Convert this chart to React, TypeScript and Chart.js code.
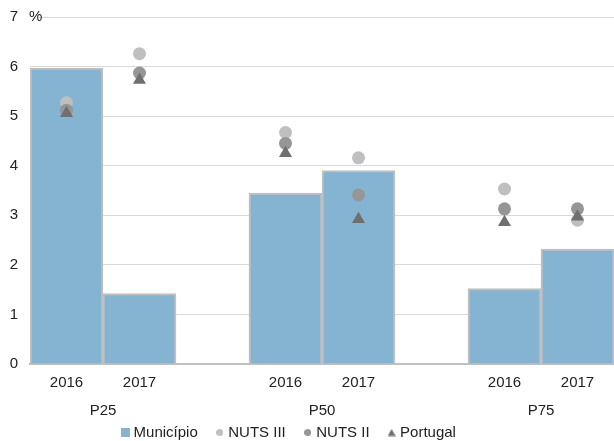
import React, { useEffect, useRef } from "react";
import { Chart, registerables } from "chart.js";

Chart.register(...registerables);

const categories = ["2016", "2017", "", "2016", "2017", "", "2016", "2017"];
const groups = ["P25", "P50", "P75"];
const groupSlots = [[0, 1], [3, 4], [6, 7]];
const municipio = [5.97, 1.42, null, 3.45, 3.9, null, 1.52, 2.32];
const nutsIII = [5.27, 6.26, null, 4.67, 4.16, null, 3.53, 2.9];
const nutsII = [5.12, 5.87, null, 4.45, 3.41, null, 3.13, 3.13];
const portugal = [5.06, 5.73, null, 4.25, 2.92, null, 2.86, 2.97];
const yTicks = [0, 1, 2, 3, 4, 5, 6, 7];

const FONT = "'Liberation Sans', Arial, sans-serif";
const BAR = "#85B4D3";
const C3 = "#BFBFBF";
const C2 = "#969696";
const CP = "#6F6F6F";

function marker(kind: string, color: string, size: number) {
  const c = document.createElement("canvas");
  c.width = size;
  c.height = size;
  const g = c.getContext("2d")!;
  g.fillStyle = color;
  if (kind === "rect") g.fillRect(0, 0, size, size);
  else if (kind === "circle") {
    g.beginPath();
    g.arc(size / 2, size / 2, size / 2, 0, Math.PI * 2);
    g.fill();
  } else {
    g.beginPath();
    g.moveTo(size / 2, 0.5);
    g.lineTo(size, size - 0.5);
    g.lineTo(0, size - 0.5);
    g.closePath();
    g.fill();
  }
  return c;
}

export default function App() {
  const ref = useRef<HTMLCanvasElement | null>(null);
  useEffect(() => {
    if (!ref.current) return;
    const legendMarkers = [
      marker("rect", BAR, 9),
      marker("circle", C3, 7),
      marker("circle", C2, 7),
      marker("tri", CP, 8),
    ];
    const extras = {
      id: "extras",
      afterLayout(chart: any) {
        if (chart.legend) {
          chart.legend.left -= 17;
          chart.legend.right -= 17;
        }
      },
      afterDraw(chart: any) {
        const ctx = chart.ctx;
        const x = chart.scales.x;
        const y = chart.scales.y;
        ctx.save();
        ctx.font = `15px ${FONT}`;
        ctx.fillStyle = "#222";
        ctx.textAlign = "center";
        ctx.textBaseline = "middle";
        groups.forEach((g, i) => {
          const [a, b] = groupSlots[i];
          const cx = (x.getPixelForValue(a) + x.getPixelForValue(b)) / 2;
          ctx.fillText(g, cx, x.top + 47);
        });
        const py = y.getPixelForValue(7);
        ctx.fillStyle = "#fff";
        ctx.fillRect(chart.chartArea.left, py - 2, 9, 4);
        ctx.fillStyle = "#222";
        ctx.textAlign = "left";
        ctx.fillText("%", chart.chartArea.left - 1, py);
        ctx.restore();
      },
    };
    const chart = new Chart(ref.current, {
      type: "bar",
      data: {
        labels: categories,
        datasets: [
          {
            type: "bar",
            label: "Município",
            data: municipio,
            backgroundColor: BAR,
            borderColor: "#C0C0C0",
            borderWidth: 2,
            borderSkipped: "bottom",
            barPercentage: 1,
            categoryPercentage: 1,
            order: 10,
          } as any,
          {
            type: "line",
            label: "NUTS III",
            data: nutsIII,
            showLine: false,
            pointStyle: "circle",
            pointRadius: 6.5,
            pointBackgroundColor: C3,
            pointBorderColor: C3,
            backgroundColor: C3,
            borderColor: C3,
            pointBorderWidth: 0,
            order: 3,
          },
          {
            type: "line",
            label: "NUTS II",
            data: nutsII,
            showLine: false,
            pointStyle: "circle",
            pointRadius: 6.5,
            pointBackgroundColor: C2,
            pointBorderColor: C2,
            backgroundColor: C2,
            borderColor: C2,
            pointBorderWidth: 0,
            order: 2,
          },
          {
            type: "line",
            label: "Portugal",
            data: portugal,
            showLine: false,
            pointStyle: "triangle",
            pointRadius: 7.5,
            pointBackgroundColor: CP,
            pointBorderColor: CP,
            backgroundColor: CP,
            borderColor: CP,
            pointBorderWidth: 0,
            order: 1,
          },
        ],
      },
      options: {
        animation: false,
        responsive: false,
        maintainAspectRatio: false,
        layout: { autoPadding: false, padding: { top: 17, right: 0, left: 0, bottom: -9 } },
        plugins: {
          tooltip: { enabled: false },
          legend: {
            position: "bottom",
            labels: {
              font: { family: FONT, size: 15 },
              color: "#222",
              usePointStyle: true,
              boxWidth: 2,
              boxHeight: 9,
              padding: 21,
              generateLabels(chart: any) {
                const items = Chart.defaults.plugins.legend.labels.generateLabels(chart);
                return items
                  .sort((a: any, b: any) => a.datasetIndex - b.datasetIndex)
                  .map((it: any) => ({
                    ...it,
                    pointStyle: legendMarkers[it.datasetIndex],
                    lineWidth: 0,
                    strokeStyle: "rgba(0,0,0,0)",
                  }));
              },
            },
          },
        },
        scales: {
          x: {
            grid: { display: false, drawTicks: false },
            border: { display: true, color: "#C0C0C0", width: 2 },
            ticks: {
              font: { family: FONT, size: 15 },
              color: "#222",
              padding: 10,
              maxRotation: 0,
              autoSkip: false,
            },
            afterFit(scale: any) {
              scale.height = 40;
            },
          },
          y: {
            min: 0,
            max: 7,
            afterBuildTicks(scale: any) {
              scale.ticks = yTicks.map((v) => ({ value: v }));
            },
            grid: { color: "#D9D9D9", lineWidth: 1, drawTicks: false },
            border: { display: false },
            ticks: {
              font: { family: FONT, size: 15 },
              color: "#222",
              padding: 12,
            },
            afterFit(scale: any) {
              scale.width = 30;
              scale.paddingTop = 0;
              scale.paddingBottom = 0;
            },
          },
        },
      } as any,
      plugins: [extras],
    });
    return () => chart.destroy();
  }, []);
  return (
    <div style={{ position: "fixed", left: 0, top: 0, width: 614, height: 441, background: "#fff" }}>
      <canvas ref={ref} width={614} height={441} style={{ width: 614, height: 441 }} />
    </div>
  );
}
